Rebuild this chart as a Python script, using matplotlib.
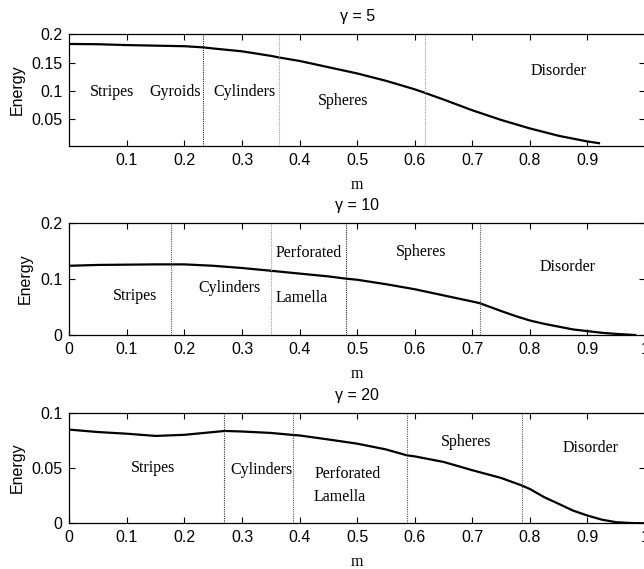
import matplotlib
matplotlib.use("Agg")
import matplotlib.pyplot as plt

# gamma = 5
m_g5 = [0.0, 0.05, 0.1, 0.15, 0.2, 0.232, 0.25, 0.3, 0.35, 0.365, 0.4, 0.45, 0.5,
        0.55, 0.6, 0.617, 0.65, 0.7, 0.75, 0.8, 0.85, 0.9, 0.92]
e_g5 = [0.183, 0.1825, 0.181, 0.180, 0.179, 0.177, 0.175, 0.170, 0.162, 0.159, 0.153,
        0.142, 0.131, 0.118, 0.103, 0.097, 0.085, 0.066, 0.049, 0.034, 0.021, 0.011, 0.008]
bounds_g5 = [0.232, 0.365, 0.617]
bcolors_g5 = ["#222222", "#9a9a9a", "#9a9a9a"]
phases_g5 = ["Stripes", "Gyroids", "Cylinders", "Spheres", "Disorder"]
phase_x_g5 = [0.074, 0.184, 0.304, 0.475, 0.85]
phase_y_g5 = [0.098, 0.098, 0.098, 0.083, 0.135]

# gamma = 10
m_g10 = [0.0, 0.05, 0.1, 0.15, 0.2, 0.25, 0.3, 0.351, 0.4, 0.45, 0.48, 0.5, 0.55,
         0.6, 0.65, 0.7, 0.713, 0.75, 0.775, 0.8, 0.825, 0.85, 0.875, 0.9, 0.925,
         0.95, 0.983]
e_g10 = [0.124, 0.1255, 0.126, 0.1265, 0.1265, 0.124, 0.120, 0.115, 0.110, 0.105,
         0.101, 0.099, 0.091, 0.082, 0.071, 0.060, 0.057, 0.043, 0.034, 0.026, 0.020,
         0.015, 0.010, 0.007, 0.004, 0.002, 0.0]
bounds_g10 = [0.176, 0.351, 0.48, 0.713]
bcolors_g10 = ["#555555", "#9a9a9a", "#222222", "#555555"]
phases_g10 = ["Stripes", "Cylinders", "Perforated", "Lamella", "Spheres", "Disorder"]
phase_x_g10 = [0.115, 0.279, 0.415, 0.403, 0.611, 0.866]
phase_y_g10 = [0.069, 0.084, 0.146, 0.066, 0.149, 0.121]

# gamma = 20
m_g20 = [0.0, 0.05, 0.1, 0.15, 0.2, 0.25, 0.27, 0.3, 0.35, 0.39, 0.4, 0.45, 0.5,
         0.55, 0.586, 0.6, 0.65, 0.7, 0.75, 0.786, 0.8, 0.825, 0.85, 0.875, 0.9,
         0.925, 0.95, 0.975, 1.0]
e_g20 = [0.0847, 0.0825, 0.081, 0.079, 0.080, 0.0825, 0.0835, 0.083, 0.0817, 0.0798,
         0.0794, 0.0758, 0.072, 0.0668, 0.0615, 0.0605, 0.0555, 0.048, 0.041, 0.0342,
         0.031, 0.0236, 0.0176, 0.0115, 0.007, 0.0033, 0.001, 0.0003, 0.0]
bounds_g20 = [0.269, 0.389, 0.586, 0.786]
bcolors_g20 = ["#333333", "#555555", "#555555", "#555555"]
phases_g20 = ["Stripes", "Cylinders", "Perforated", "Lamella", "Spheres", "Disorder"]
phase_x_g20 = [0.145, 0.334, 0.483, 0.469, 0.69, 0.906]
phase_y_g20 = [0.050, 0.0485, 0.045, 0.0236, 0.0736, 0.068]

titles = ["\u03b3 = 5", "\u03b3 = 10", "\u03b3 = 20"]
ylims = [(0.003, 0.2), (0.0, 0.2), (0.0, 0.1)]
yticks = [[0.05, 0.1, 0.15, 0.2], [0, 0.1, 0.2], [0, 0.05, 0.1]]
yticklabels = [["0.05", "0.1", "0.15", "0.2"], ["0", "0.1", "0.2"], ["0", "0.05", "0.1"]]
xticks = [[0.1, 0.2, 0.3, 0.4, 0.5, 0.6, 0.7, 0.8, 0.9],
          [0, 0.1, 0.2, 0.3, 0.4, 0.5, 0.6, 0.7, 0.8, 0.9, 1],
          [0, 0.1, 0.2, 0.3, 0.4, 0.5, 0.6, 0.7, 0.8, 0.9, 1]]

panels = [
    (m_g5, e_g5, bounds_g5, bcolors_g5, phases_g5, phase_x_g5, phase_y_g5),
    (m_g10, e_g10, bounds_g10, bcolors_g10, phases_g10, phase_x_g10, phase_y_g10),
    (m_g20, e_g20, bounds_g20, bcolors_g20, phases_g20, phase_x_g20, phase_y_g20),
]

sans = ["Liberation Sans", "DejaVu Sans"]
serif = ["Liberation Serif", "DejaVu Serif"]

fig = plt.figure(figsize=(6.44, 5.69), dpi=100)
# axes boxes in figure fractions, right edge runs slightly past the picture
boxes = [(0.1076, 0.7434, 0.894, 0.1963),
         (0.1076, 0.4112, 0.894, 0.1963),
         (0.1076, 0.0803, 0.894, 0.1944)]

for i, (m, e, bounds, bcols, names, px, py) in enumerate(panels):
    ax = fig.add_axes(boxes[i])
    ax.plot(m, e, color="black", linewidth=1.6, solid_joinstyle="round")
    for b, c in zip(bounds, bcols):
        ax.axvline(b, color=c, linestyle=(0, (1, 1)), linewidth=0.8)
    for name, x, y in zip(names, px, py):
        ax.text(x, y, name, ha="center", va="center", family=serif, fontsize=11.5)
    ax.set_xlim(0, 1)
    ax.set_ylim(*ylims[i])
    ax.set_xticks(xticks[i])
    ax.set_xticklabels([f"{t:g}" for t in xticks[i]], family=sans, fontsize=11.5)
    ax.set_yticks(yticks[i])
    ax.set_yticklabels(yticklabels[i], family=sans, fontsize=11.5)
    ax.tick_params(direction="in", length=4, width=0.8, top=True, right=True, pad=5)
    ax.set_title(titles[i], family=sans, fontsize=11.5, pad=9.5)
    ax.set_xlabel("m", family=serif, fontsize=11.5, labelpad=6.5)
    ax.set_ylabel("Energy", family=sans, fontsize=11.5, labelpad=5)
    for s in ax.spines.values():
        s.set_linewidth(0.9)

fig.savefig("out.png", dpi=100)
